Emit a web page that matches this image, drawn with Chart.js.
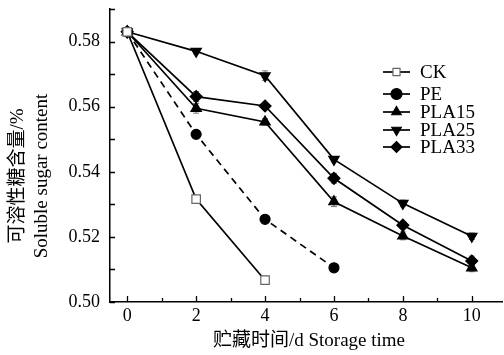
<!DOCTYPE html>
<html>
<head>
<meta charset="utf-8">
<script src="https://cdn.jsdelivr.net/npm/chart.js"></script>
<style>
  html, body { margin: 0; padding: 0; background: #fff; overflow: hidden; }
  #wrap { width: 504px; height: 355px; overflow: hidden; }
</style>
</head>
<body>
<div id="wrap"><canvas id="c" width="510" height="355"></canvas></div>
<script>
// Datos
const days = [0, 2, 4, 6, 8, 10];
const seriesNames = ['CK', 'PE', 'PLA15', 'PLA25', 'PLA33'];
const ckVals    = [0.583, 0.5316, 0.5067];
const peVals    = [0.583, 0.5515, 0.5254, 0.5105];
const pla15Vals = [0.583, 0.5595, 0.5553, 0.5308, 0.5203, 0.5105];
const pla25Vals = [0.583, 0.5770, 0.5695, 0.5438, 0.5303, 0.5202];
const pla33Vals = [0.583, 0.5631, 0.5602, 0.5380, 0.5236, 0.5126];
// error (±) aproximado
const ckErr    = [0.0008, 0.0010, 0.0012];
const peErr    = [0.0008, 0.0012, 0.0008, 0.0012];
const pla15Err = [0.0008, 0.0015, 0.0010, 0.0015, 0.0012, 0.0012];
const pla25Err = [0.0008, 0.0008, 0.0015, 0.0008, 0.0010, 0.0010];
const pla33Err = [0.0008, 0.0015, 0.0008, 0.0015, 0.0010, 0.0015];

const xTickLabels = [0, 2, 4, 6, 8, 10];
const xMinorTicks = [1, 3, 5, 7, 9];
const yTickLabels = [0.50, 0.52, 0.54, 0.56, 0.58];
const yMinorTicks = [0.51, 0.53, 0.55, 0.57, 0.59];

const yTitleZh = '可溶性糖含量/%';
const yTitleEn = 'Soluble sugar content';
const xTitle = '贮藏时间/d Storage time';

const FONT = '"Liberation Serif", "Times New Roman", "Noto Sans CJK SC", serif';
Chart.defaults.font.family = FONT;
Chart.defaults.color = '#000';

const toPts = (vals) => vals.map((v, i) => ({ x: days[i], y: v }));

const styles = [
  { pointStyle: 'rect', radius: 6, bg: '#fff', border: '#666', dash: [], rot: 0 },
  { pointStyle: 'circle', radius: 5, bg: '#000', border: '#000', dash: [7, 5], rot: 0 },
  { pointStyle: 'triangle', radius: 6, bg: '#000', border: '#000', dash: [], rot: 0 },
  { pointStyle: 'triangle', radius: 6, bg: '#000', border: '#000', dash: [], rot: 180 },
  { pointStyle: 'rectRot', radius: 6, bg: '#000', border: '#000', dash: [], rot: 0 }
];
const allVals = [ckVals, peVals, pla15Vals, pla25Vals, pla33Vals];
const allErr = [ckErr, peErr, pla15Err, pla25Err, pla33Err];

const datasets = seriesNames.map((name, k) => ({
  label: name,
  data: toPts(allVals[k]),
  errs: allErr[k],
  borderColor: '#000',
  borderWidth: 1.7,
  borderDash: styles[k].dash,
  pointStyle: styles[k].pointStyle,
  pointRadius: styles[k].radius,
  pointRotation: styles[k].rot,
  pointBackgroundColor: styles[k].bg,
  pointBorderColor: styles[k].border,
  pointBorderWidth: 1.2,
  fill: false,
  tension: 0
}));

// barras de error, ticks hacia dentro, leyenda y títulos
const extras = {
  id: 'extras',
  beforeDatasetsDraw(chart) {
    const ctx = chart.ctx;
    const xs = chart.scales.x, ys = chart.scales.y;
    ctx.save();
    ctx.strokeStyle = '#777';
    ctx.lineWidth = 1;
    chart.data.datasets.forEach(ds => {
      ds.data.forEach((p, i) => {
        const e = ds.errs[i];
        const px = xs.getPixelForValue(p.x);
        const y1 = ys.getPixelForValue(p.y + e), y2 = ys.getPixelForValue(p.y - e);
        ctx.beginPath();
        ctx.moveTo(px, y1); ctx.lineTo(px, y2);
        ctx.moveTo(px - 3, y1); ctx.lineTo(px + 3, y1);
        ctx.moveTo(px - 3, y2); ctx.lineTo(px + 3, y2);
        ctx.stroke();
      });
    });
    ctx.restore();
  },
  afterDraw(chart) {
    const ctx = chart.ctx;
    const xs = chart.scales.x, ys = chart.scales.y;
    const a = chart.chartArea;
    ctx.save();
    ctx.strokeStyle = '#000';
    ctx.lineWidth = 1.3;
    ctx.beginPath();
    yTickLabels.concat(yMinorTicks).forEach(v => {
      const py = Math.round(ys.getPixelForValue(v)) + 0.5;
      ctx.moveTo(a.left, py); ctx.lineTo(a.left + 5, py);
    });
    xTickLabels.forEach(v => {
      const px = Math.round(xs.getPixelForValue(v)) + 0.5;
      ctx.moveTo(px, a.bottom); ctx.lineTo(px, a.bottom - 6);
    });
    xMinorTicks.forEach(v => {
      const px = Math.round(xs.getPixelForValue(v)) + 0.5;
      ctx.moveTo(px, a.bottom); ctx.lineTo(px, a.bottom - 4);
    });
    ctx.stroke();

    // leyenda
    const rows = [72, 94, 112, 130, 147];
    ctx.font = '19px ' + FONT;
    ctx.fillStyle = '#000';
    ctx.textBaseline = 'middle';
    chart.data.datasets.forEach((ds, k) => {
      const y = rows[k];
      ctx.strokeStyle = '#000';
      ctx.lineWidth = 1.7;
      ctx.setLineDash([]);
      ctx.beginPath(); ctx.moveTo(383, y); ctx.lineTo(410, y); ctx.stroke();
      ctx.fillStyle = ds.pointBackgroundColor;
      ctx.strokeStyle = ds.pointBorderColor;
      ctx.lineWidth = 1.2;
      Chart.helpers.drawPoint(ctx, {
        pointStyle: ds.pointStyle, rotation: ds.pointRotation,
        radius: k === 0 ? 5 : 5.5, borderWidth: 1.2
      }, 396.5, y);
      ctx.fillStyle = '#000';
      ctx.fillText(ds.label, 420, y + 1);
    });

    // títulos de ejes
    ctx.font = '19px ' + FONT;
    ctx.textAlign = 'center';
    ctx.textBaseline = 'middle';
    ctx.fillText(xTitle, 309, 341);
    ctx.translate(18, 176);
    ctx.rotate(-Math.PI / 2);
    ctx.fillText(yTitleZh, 0, 0);
    ctx.fillText(yTitleEn, 0, 24);
    ctx.restore();
  }
};

new Chart(document.getElementById('c').getContext('2d'), {
  type: 'line',
  data: { datasets },
  options: {
    responsive: false,
    animation: false,
    layout: { padding: { left: 0, top: 9, right: 0, bottom: 0 } },
    plugins: { legend: { display: false }, tooltip: { enabled: false } },
    scales: {
      x: {
        type: 'linear', min: -0.5, max: 10.9,
        afterBuildTicks: s => { s.ticks = xTickLabels.map(v => ({ value: v })); },
        afterFit: s => { s.height = 53; s.paddingLeft = 0; s.paddingRight = 0; },
        grid: { display: false, drawTicks: false },
        border: { display: true, color: '#000', width: 1.5 },
        ticks: { color: '#000', font: { family: FONT, size: 18 }, padding: 3, maxRotation: 0 }
      },
      y: {
        min: 0.50, max: 0.59,
        afterBuildTicks: s => { s.ticks = yTickLabels.map(v => ({ value: v })); },
        afterFit: s => { s.width = 110; s.paddingTop = 0; s.paddingBottom = 0; },
        grid: { display: false, drawTicks: false },
        border: { display: true, color: '#000', width: 1.5 },
        ticks: { color: '#000', font: { family: FONT, size: 18 }, padding: 10, callback: v => v.toFixed(2) }
      }
    }
  },
  plugins: [extras]
});
</script>
</body>
</html>
